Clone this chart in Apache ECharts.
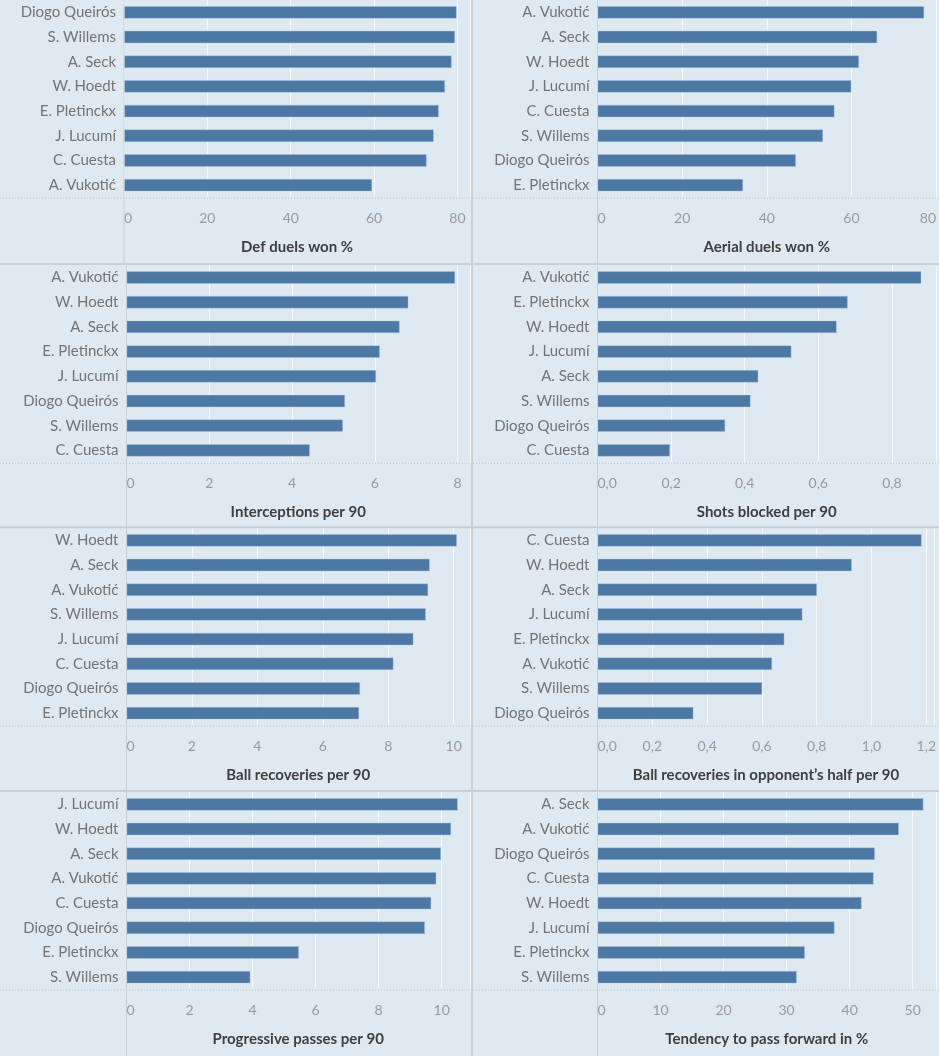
<!DOCTYPE html>
<html><head><meta charset="utf-8">
<script src="https://cdn.jsdelivr.net/npm/echarts@6/dist/echarts.min.js"></script>
<style>html,body{margin:0;padding:0;background:#dfe9f1}#c{width:939px;height:1056px}</style></head>
<body><div id="c"></div><script>
const defDuelsPlayers = ['Diogo Queirós','S. Willems','A. Seck','W. Hoedt','E. Pletinckx','J. Lucumí','C. Cuesta','A. Vukotić'];
const defDuelsValues = [79.8,79.4,78.6,77.0,75.5,74.3,72.6,59.5];
const aerialPlayers = ['A. Vukotić','A. Seck','W. Hoedt','J. Lucumí','C. Cuesta','S. Willems','Diogo Queirós','E. Pletinckx'];
const aerialValues = [77.2,66.1,61.8,60.0,56.0,53.3,46.9,34.4];
const interceptPlayers = ['A. Vukotić','W. Hoedt','A. Seck','E. Pletinckx','J. Lucumí','Diogo Queirós','S. Willems','C. Cuesta'];
const interceptValues = [7.94,6.81,6.60,6.12,6.03,5.28,5.23,4.43];
const shotsPlayers = ['A. Vukotić','E. Pletinckx','W. Hoedt','J. Lucumí','A. Seck','S. Willems','Diogo Queirós','C. Cuesta'];
const shotsValues = [0.88,0.68,0.65,0.527,0.437,0.416,0.347,0.197];
const recovPlayers = ['W. Hoedt','A. Seck','A. Vukotić','S. Willems','J. Lucumí','C. Cuesta','Diogo Queirós','E. Pletinckx'];
const recovValues = [10.1,9.27,9.22,9.15,8.77,8.16,7.14,7.11];
const oppHalfPlayers = ['C. Cuesta','W. Hoedt','A. Seck','J. Lucumí','E. Pletinckx','A. Vukotić','S. Willems','Diogo Queirós'];
const oppHalfValues = [1.183,0.928,0.801,0.748,0.682,0.637,0.601,0.350];
const progPlayers = ['J. Lucumí','W. Hoedt','A. Seck','A. Vukotić','C. Cuesta','Diogo Queirós','E. Pletinckx','S. Willems'];
const progValues = [10.51,10.30,9.98,9.83,9.67,9.47,5.47,3.93];
const fwdPlayers = ['A. Seck','A. Vukotić','Diogo Queirós','C. Cuesta','W. Hoedt','J. Lucumí','E. Pletinckx','S. Willems'];
const fwdValues = [51.7,47.8,44.0,43.8,41.9,37.6,32.9,31.6];
const panelTitles = ['Def duels won %','Aerial duels won %','Interceptions per 90','Shots blocked per 90',
  'Ball recoveries per 90','Ball recoveries in opponent\u2019s half per 90','Progressive passes per 90','Tendency to pass forward in %'];
const axisMax = [83, 80, 8.3, 0.92, 10.5, 1.23, 10.9, 53.7];
const axisInterval = [20, 20, 2, 0.2, 2, 0.2, 2, 10];
const axisDecimals = [0, 0, 0, 1, 0, 1, 0, 0];

const panelCats = [defDuelsPlayers, aerialPlayers, interceptPlayers, shotsPlayers, recovPlayers, oppHalfPlayers, progPlayers, fwdPlayers];
const panelVals = [defDuelsValues, aerialValues, interceptValues, shotsValues, recovValues, oppHalfValues, progValues, fwdValues];

// layout
const rowTop = [0, 265.2, 528, 792];
const rowBottom = [264, 527, 790.5, 1056];
const barH = 197.5;
const colStart = [0, 473];
const colEnd = [471, 939];
const plotLeft = [[124, 126.5, 126.5, 126.5], [597.5, 597.5, 597.5, 597.5]];
const plotRight = [470, 937];

const grid = [], xAxis = [], yAxis = [], series = [], graphic = [];
const FONT = 'Lato';
graphic.push({type:'rect', shape:{x:0,y:0,width:939,height:1056}, style:{fill:'#dfe9f1'}, z:-10, silent:true});

for (let i = 0; i < 8; i++) {
  const r = Math.floor(i / 2), c = i % 2;
  const left = plotLeft[c][r];
  grid.push({left: left, top: rowTop[r], width: plotRight[c] - left, height: barH, containLabel: false});
  const intv = axisInterval[i], dec = axisDecimals[i];
  xAxis.push({
    type: 'value', gridIndex: i, min: 0, max: axisMax[i], interval: intv,
    axisLine: {show: false}, axisTick: {show: false},
    splitLine: {show: true, lineStyle: {color: 'rgba(255,255,255,0.7)', width: 1}},
    axisLabel: {
      color: '#9a9a9a', fontFamily: FONT, fontSize: 14, margin: 14,
      alignMinLabel: 'left', alignMaxLabel: (i === 1 ? 'right' : 'center'),
      formatter: function (v) {
        const k = v / intv;
        if (Math.abs(k - Math.round(k)) > 1e-6) return '';
        return dec ? v.toFixed(dec).replace('.', ',') : String(Math.round(v));
      }
    },
    name: panelTitles[i], nameLocation: 'middle', nameGap: 42,
    nameTextStyle: {color: '#3f3f3f', fontFamily: FONT, fontSize: 15, fontWeight: 'bold'}
  });
  yAxis.push({
    type: 'category', gridIndex: i, data: panelCats[i], inverse: true,
    axisLine: {show: false}, axisTick: {show: false}, splitLine: {show: false},
    axisLabel: {color: '#747474', fontFamily: FONT, fontSize: 15, margin: 8}
  });
  series.push({
    type: 'bar', xAxisIndex: i, yAxisIndex: i, data: panelVals[i], barWidth: 12.5,
    itemStyle: {color: '#4e78a4', borderColor: 'rgba(170,200,230,0.7)', borderWidth: 0.6},
    silent: true, animation: false
  });
  // full-height vertical axis line
  graphic.push({type:'line', shape:{x1:left, y1:rowTop[r], x2:left, y2:rowBottom[r]},
    style:{stroke:'#c9d1d8', lineWidth:1}, silent:true, z:5});
  // dotted bottom line across panel
  graphic.push({type:'line', shape:{x1:colStart[c], y1:rowTop[r]+barH+0.5, x2:colEnd[c], y2:rowTop[r]+barH+0.5},
    style:{stroke:'#b9c1c8', lineWidth:1, lineDash:[1,2]}, silent:true, z:5});
}
// dividers
graphic.push({type:'line', shape:{x1:472, y1:0, x2:472, y2:1056}, style:{stroke:'#c8cfd5', lineWidth:2}, silent:true, z:6});
[264, 527.3, 791].forEach(y => graphic.push({type:'line', shape:{x1:0, y1:y, x2:939, y2:y},
  style:{stroke:'#c8cfd5', lineWidth:2}, silent:true, z:6}));

const chart = echarts.init(document.getElementById('c'), null, {renderer: 'canvas'});
chart.setOption({animation: false, backgroundColor: '#dfe9f1', grid, xAxis, yAxis, series, graphic});
</script></body></html>
